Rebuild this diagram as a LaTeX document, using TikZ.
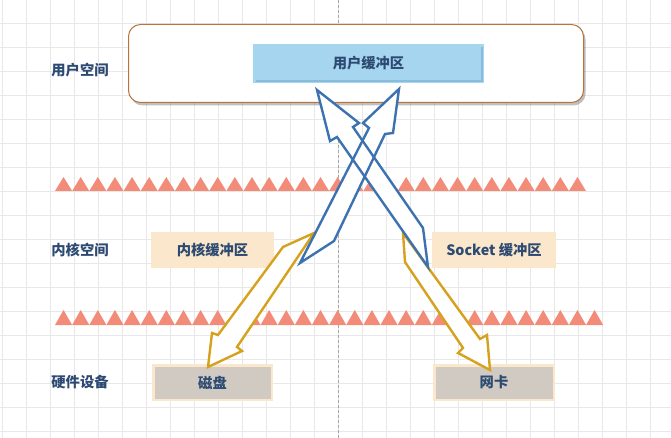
\documentclass[tikz,border=0pt]{standalone}
\usepackage{fontspec}
\setmainfont{Noto Sans CJK SC}
\usetikzlibrary{shadows}
\definecolor{txt}{HTML}{2D4A72}
\definecolor{gridc}{HTML}{E8E8E8}
\definecolor{tri}{HTML}{F28C78}
\definecolor{blu}{HTML}{3C72B0}
\definecolor{yel}{HTML}{D6A21E}
\definecolor{beige}{HTML}{FBE7CB}
\definecolor{ubufc}{HTML}{A6D5EF}
\definecolor{ubufd}{HTML}{86BCDD}
\definecolor{hwc}{HTML}{D1CAC2}
\definecolor{brownc}{HTML}{B8743A}
\tikzset{
  txtfont/.style={text=txt, font=\fontsize{14.3}{14.3}\selectfont\bfseries},
  lbl/.style={txtfont, inner sep=0pt},
  bufbox/.style={txtfont, fill=beige, minimum width=123pt, minimum height=36pt, inner sep=0pt},
  hwbox/.style={txtfont, fill=hwc, draw=beige, line width=2.5pt, minimum width=118.5pt, minimum height=34.5pt,
    inner sep=0pt},
  bluearrow/.style={draw=blu, line width=2.4pt, line join=miter},
  yelarrow/.style={draw=yel, line width=2.4pt, fill=white, line join=miter},
}
\begin{document}
\begin{tikzpicture}[x=1pt,y=-1pt]
\useasboundingbox (0,0) rectangle (671,438);
\fill[white] (0,0) rectangle (671,438);
% grid
\foreach \gx in {2.7,26.7,...,671} \draw[gridc, line width=0.6pt] (\gx,0) -- (\gx,438);
\foreach \gy in {-1,23,...,438} \draw[gridc, line width=0.6pt] (0,\gy) -- (671,\gy);
\draw[black!35, line width=0.6pt, dash pattern=on 3pt off 2pt] (338.7,0) -- (338.7,438);
% triangle rows
\foreach \i in {0,...,30} \fill[tri] ({55+17.13*\i},191) -- ({55+17.13*\i+8.56},177) -- ({55+17.13*(\i+1)},191) -- cycle;
\foreach \i in {0,...,31} \fill[tri] ({55+17.13*\i},325) -- ({55+17.13*\i+8.56},310) -- ({55+17.13*(\i+1)},325) -- cycle;
% user space
\node[draw=brownc, line width=1pt, rounded corners=12pt, fill=white, minimum width=455pt,
  minimum height=78pt, drop shadow={shadow xshift=2pt, shadow yshift=-3pt, opacity=0.35, fill=black!70}] (uspace) at (356,63.5) {};
\node[txtfont, fill=ubufc, minimum width=231pt, minimum height=39pt, inner sep=0pt] (ubuf) at (368.5,63.5) {用户缓冲区};
\draw[ubufd, line width=2pt] ([xshift=-2pt,yshift=-3pt]ubuf.north east) -- ([xshift=-2pt,yshift=2pt]ubuf.south east) -- ([xshift=3pt,yshift=2pt]ubuf.south west);
% labels
\node[lbl] (l1) at (80,70) {用户空间};
\node[lbl] (l2) at (80,250) {内核空间};
\node[lbl] (l3) at (80,382) {硬件设备};
% buffers
\node[bufbox] (kbuf) at (212.5,250) {内核缓冲区};
\node[bufbox, minimum width=124pt] (sbuf) at (494,250) {Socket 缓冲区};
\node[hwbox] (disk) at (212.5,382.5) {磁盘};
\node[hwbox, minimum width=119.5pt] (nic) at (494,382.5) {网卡};
% yellow arrows
\draw[yelarrow] (314,233) -- (283,247) -- (218,335) -- (212,333) -- (208,367) -- (242,351) -- (237,347) -- cycle;
\draw[yelarrow] (403,233) -- (405,262) -- (463,348) -- (458,353) -- (490,370) -- (487,335) -- (480,339) -- cycle;
% blue arrows
\fill[white] (399,89) -- (393,133) -- (385,134) -- (334,241) -- (300,263) -- (369,128) -- (363,123) -- cycle;
\fill[white] (317,90) -- (359,123) -- (353,127) -- (423,228) -- (428,267) -- (337,137) -- (330,141) -- cycle;
\draw[bluearrow] (399,89) -- (393,133) -- (385,134) -- (334,241) -- (300,263) -- (369,128) -- (363,123) -- cycle;
\draw[bluearrow] (317,90) -- (359,123) -- (353,127) -- (423,228) -- (428,267) -- (337,137) -- (330,141) -- cycle;
\end{tikzpicture}
\end{document}
